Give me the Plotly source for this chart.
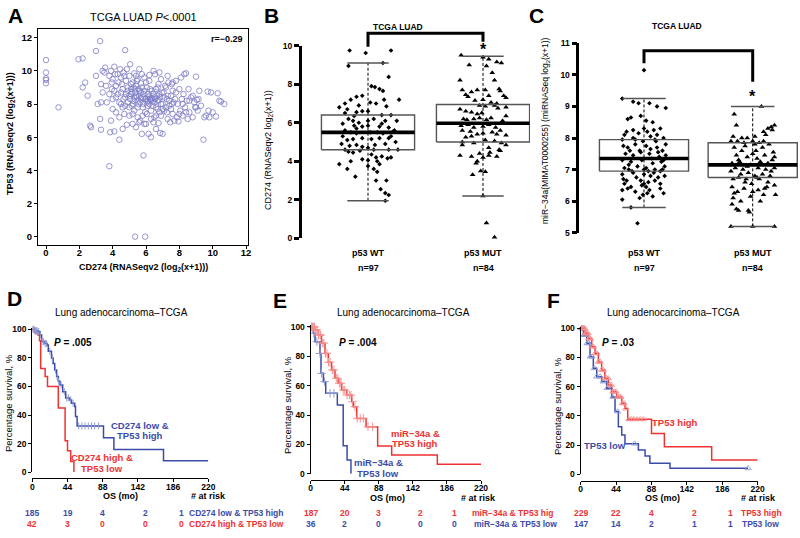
import plotly.graph_objects as go

W, H = 800, 538
FONT = "Liberation Sans, Arial, sans-serif"
RED = "#ee3232"
BLUE = "#3b4ca8"
RED_L = "#f59090"
BLUE_L = "#8f9ad0"
SCAT = "#7c7cc6"

# ---------------- DATA ----------------
# Panel A: CD274 vs TP53 (log2(x+1))
A_POINTS = [(0,10.65),(0,9.9),(0,9.55),(0,9.45),(0,9.25),(0.75,7.8),(1.95,10.7),(2.2,10.75),(2.2,9.0),(2.35,9.3),
 (2.5,8.5),(2.65,6.7),(2.7,6.6),(3.0,11.2),(3.25,11.8),(3.0,9.7),(3.1,8.0),(3.25,7.1),(3.3,6.45),(3.3,9.2),
 (3.3,8.1),(3.4,8.7),(3.4,10.0),(3.5,9.9),(3.55,10.2),(3.8,4.25),(3.85,6.3),(3.65,8.1),(3.6,9.1),(3.8,9.7),
 (3.9,10.0),(3.9,7.0),(3.95,8.9),(4.0,9.5),(4.0,8.3),(4.1,6.35),(4.1,10.25),(4.15,9.8),(4.2,9.1),(4.2,7.5),
 (4.3,8.6),(4.35,9.3),(4.4,5.85),(4.4,7.2),(4.45,10.1),(4.5,8.0),(4.5,9.6),(4.6,6.5),(4.6,8.9),(4.65,9.9),
 (4.7,7.4),(4.75,11.25),(4.75,8.4),(4.8,9.4),(4.85,6.75),(4.85,10.1),(4.9,8.1),(4.9,9.0),(5.0,7.3),(5.0,9.7),
 (5.05,10.4),(5.1,8.6),(5.1,8.9),(5.15,7.9),(5.2,9.3),(5.2,6.8),(5.25,8.2),(5.3,9.85),(5.3,7.6),(5.35,0.0),
 (5.35,8.7),(5.4,9.1),(5.4,6.6),(5.45,8.4),(5.5,9.5),(5.5,7.2),(5.55,8.0),(5.6,10.1),(5.6,8.8),(5.65,7.0),
 (5.7,8.35),(5.7,9.25),(5.75,6.2),(5.8,7.8),(5.85,4.9),(5.85,8.6),(5.9,9.6),(5.95,0.0),(5.95,7.5),(6.0,8.3),
 (6.0,6.8),(6.05,9.0),(6.1,8.2),(6.1,7.9),(6.15,6.2),(6.2,8.5),(6.2,9.4),(6.25,8.3),(6.3,6.0),(6.3,7.6),
 (6.35,8.8),(6.4,8.15),(6.45,10.0),(6.5,8.4),(6.5,7.2),(6.55,9.8),(6.6,8.9),(6.6,6.5),(6.7,8.2),(6.7,7.7),
 (6.75,9.2),(6.8,8.6),(6.85,6.25),(6.9,7.3),(6.9,9.5),(7.0,8.0),(7.0,6.2),(7.05,8.7),(7.1,7.6),(7.2,9.0),
 (7.25,8.3),(7.3,7.1),(7.35,9.3),(7.4,7.9),(7.45,6.9),(7.5,8.5),(7.55,9.2),(7.6,7.4),(7.65,8.1),(7.7,7.0),
 (7.8,9.4),(7.8,8.7),(7.85,7.2),(7.9,8.0),(7.95,6.95),(8.0,8.9),(8.05,7.6),(8.1,9.6),(8.15,8.3),(8.2,7.3),
 (8.25,8.6),(8.3,9.8),(8.35,7.8),(8.4,9.85),(8.45,8.2),(8.5,7.1),(8.55,8.9),(8.6,7.5),(8.7,8.4),(8.8,7.2),
 (8.9,8.1),(8.95,7.8),(9.0,9.65),(9.05,8.25),(9.1,7.6),(9.2,8.8),(9.3,7.9),(9.45,5.85),(9.5,7.2),(9.6,7.3),
 (9.7,8.75),(9.75,7.6),(9.8,7.2),(9.9,8.7),(10.0,7.5),(10.2,7.25),(10.3,8.65),(10.4,8.2),(10.5,8.15),(10.7,8.0),
 (4.8,8.6),(4.9,8.8),(5.0,8.5),(5.05,8.3),(5.1,9.2),(5.15,8.7),(5.2,8.0),(5.25,9.0),(5.3,8.4),(5.35,8.9),
 (5.4,8.5),(5.45,9.4),(5.5,8.2),(5.55,8.9),(5.6,8.5),(5.65,8.1),(5.7,8.7),(5.75,9.0),(5.8,8.4),(5.85,8.0),
 (5.9,8.8),(5.95,8.3),(6.0,9.3),(6.05,8.1),(6.1,8.6),(6.15,8.4),(6.2,8.0),(6.25,8.9),(6.3,8.25),(6.35,8.35),
 (6.4,7.9),(6.45,8.6),(6.5,8.1),(6.55,8.3),(6.6,7.8),(6.65,8.5),(6.7,9.0),(6.75,8.25),(6.8,7.5),(6.85,8.4),
 (6.9,8.0),(6.95,8.7),(7.0,7.7),(7.1,8.4),(7.15,9.1),(7.2,7.8),(7.3,8.5),(7.4,8.2),(7.5,7.7),(7.6,8.8),
 (4.4,8.1),(4.5,8.7),(4.55,9.2),(4.6,7.8),(4.7,9.7),(4.3,9.8),(4.2,8.4),(4.1,8.8),(3.95,9.3),(3.8,8.6),
 (4.0,7.7),(4.65,8.3),(4.75,7.9),(5.0,7.8),(5.2,7.4),(5.5,7.8),(5.8,7.3),(6.05,7.4),(6.3,7.1),(6.45,6.9),
 (6.6,7.3),(6.75,6.85),(5.6,6.9),(5.9,6.8),(7.25,7.5),(7.55,8.0),(7.75,8.3),(8.0,7.4),(8.2,8.0),(8.4,7.5),
 (8.6,8.2),(8.8,8.5),(9.0,7.8),(9.15,8.3),(5.4,9.7),(5.75,9.8),(6.2,9.75),(6.8,9.9),(7.3,9.7),(7.6,9.3)]

GROUPS = ["p53 WT", "p53 MUT"]
GROUP_N = ["n=97", "n=84"]

# Panel B: CD274 by p53 status (box stats + points as (jitter, value))
B_Q1 = [4.6, 5.0]; B_MED = [5.5, 5.97]; B_Q3 = [6.4, 6.95]; B_LO = [1.95, 2.2]; B_HI = [9.1, 9.45]
B_WT = [(-0.16,9.75),(-0.02,9.62),(0.2,9.75),(-0.17,8.95),(0.13,9.1),(0.18,8.38),(0.03,7.9),(0.06,7.85),(0.1,7.75),(0.13,7.65),
 (-0.05,7.4),(-0.1,7.35),(0.14,7.2),(0.27,7.2),(0.07,7.0),(-0.15,7.2),(-0.2,7.0),(-0.25,6.8),(-0.18,6.7),(-0.1,6.55),
 (-0.05,6.6),(-0.2,6.5),(0.0,6.6),(0.12,6.4),(0.2,6.4),(-0.17,6.2),(-0.13,6.1),(-0.08,6.0),(0.0,6.1),(0.05,6.2),
 (0.15,6.1),(-0.22,5.95),(-0.12,5.85),(-0.05,5.8),(0.0,5.85),(0.1,5.8),(0.18,5.75),(0.23,5.6),(-0.2,5.6),(-0.15,5.5),
 (-0.1,5.45),(0.02,5.5),(0.08,5.5),(0.13,5.45),(0.22,5.55),(-0.18,5.1),(-0.13,5.15),(-0.05,5.2),(0.03,5.15),(0.1,5.2),
 (0.18,5.2),(0.24,5.0),(-0.23,4.9),(-0.16,4.8),(-0.1,4.85),(-0.05,4.75),(0.0,4.7),(0.06,4.85),(0.15,4.9),(-0.2,4.6),
 (-0.17,4.5),(-0.13,4.45),(-0.07,4.55),(0.05,4.6),(0.18,4.6),(0.26,4.6),(0.03,4.35),(0.07,4.2),(0.12,4.25),(0.17,4.15),
 (0.2,4.2),(-0.05,4.1),(0.0,4.05),(0.08,4.0),(-0.25,3.85),(-0.15,4.0),(-0.18,3.6),(0.0,3.75),(0.05,3.6),(-0.11,3.2),
 (0.08,3.45),(0.07,3.0),(0.16,3.0),(0.11,2.55),(0.15,2.35),(0.18,2.25),(0.15,1.95),(0.1,3.85),(0.16,6.85),(-0.08,6.9),
 (0.02,7.05),(-0.22,5.3),(0.2,5.3),(-0.1,5.7),(0.12,5.95),(0.25,6.1),(-0.12,6.35)]
B_MUT = [(-0.19,9.5),(0.0,9.4),(0.05,9.3),(0.12,9.15),(0.16,9.1),(-0.12,9.0),(0.03,8.95),(0.08,8.6),(-0.2,8.2),(0.1,8.2),
 (-0.18,7.7),(-0.1,7.6),(-0.05,7.7),(0.02,7.7),(0.14,7.75),(0.15,7.65),(-0.15,7.45),(-0.13,7.35),(0.05,7.4),(0.18,7.4),
 (0.2,7.3),(-0.07,7.15),(0.0,7.2),(0.07,7.05),(0.12,7.0),(-0.03,6.9),(0.02,6.85),(0.1,6.9),(0.13,6.75),(0.2,6.35),
 (-0.2,6.7),(-0.15,6.6),(-0.1,6.55),(-0.05,6.45),(-0.01,6.5),(-0.17,6.2),(-0.14,6.15),(-0.08,6.2),(-0.03,6.25),(0.03,6.15),
 (0.07,6.25),(0.17,6.1),(-0.19,5.85),(-0.13,5.9),(-0.08,5.75),(0.0,5.8),(0.05,5.9),(0.11,5.75),(0.15,5.6),(-0.18,5.6),
 (-0.11,5.55),(-0.05,5.4),(0.0,5.45),(0.08,5.5),(0.12,5.4),(0.2,5.35),(-0.15,5.25),(-0.1,5.3),(0.02,5.1),(0.1,5.05),
 (0.16,4.95),(0.2,4.85),(-0.18,5.0),(-0.08,4.95),(0.05,4.7),(0.14,4.6),(-0.18,4.85),(-0.2,4.3),(-0.1,4.25),(-0.03,4.4),
 (0.0,4.2),(0.05,4.3),(0.12,4.25),(0.15,4.55),(-0.05,4.0),(-0.06,3.9),(-0.02,3.5),(0.02,3.45),(-0.09,3.3),(0.0,2.2),
 (0.03,0.8),(0.1,0.05),(0.06,4.45),(0.2,6.8)]

# Panel C: miR-34a by p53 status
C_Q1 = [6.95, 6.75]; C_MED = [7.35, 7.15]; C_Q3 = [7.95, 7.85]; C_LO = [5.8, 5.2]; C_HI = [9.25, 9.0]
C_WT = [(0.0,10.15),(-0.2,9.25),(-0.1,9.15),(-0.05,9.1),(0.05,9.1),(0.12,9.0),(0.2,8.95),(-0.15,8.6),(-0.12,8.65),(-0.03,8.7),
 (0.08,8.5),(0.0,8.3),(0.03,8.2),(-0.05,8.15),(-0.1,8.0),(-0.18,8.1),(-0.2,7.95),(0.06,8.05),(0.1,7.95),(0.18,8.0),
 (0.2,7.8),(-0.19,7.75),(-0.15,7.7),(-0.08,7.8),(0.02,7.75),(0.12,7.7),(0.17,7.6),(-0.17,7.5),(-0.1,7.45),(-0.03,7.55),
 (0.05,7.5),(0.14,7.4),(-0.2,7.3),(-0.12,7.25),(-0.02,7.3),(0.08,7.2),(0.16,7.25),(0.19,7.1),(-0.18,7.05),(-0.14,7.0),
 (-0.06,7.1),(0.02,7.05),(0.1,7.0),(0.15,6.95),(-0.2,6.85),(-0.1,6.9),(0.0,6.85),(0.06,6.8),(0.13,6.75),(0.19,6.8),
 (-0.19,6.7),(-0.16,6.65),(-0.07,6.75),(0.04,6.6),(0.1,6.65),(-0.18,6.55),(-0.12,6.45),(-0.02,6.5),(0.02,6.45),(0.15,6.4),
 (-0.2,6.35),(-0.15,6.4),(-0.01,6.2),(0.03,6.25),(0.08,6.15),(0.18,6.25),(-0.12,5.8),(0.0,6.55),(-0.06,5.3),(0.11,7.9),
 (-0.08,7.95),(0.07,7.35),(-0.14,7.15),(0.04,6.95),(-0.04,7.6),(0.12,8.1),(-0.1,8.25),(0.15,8.3),(0.05,6.35),(-0.04,6.1),
 (0.17,7.0),(-0.2,6.05),(0.09,6.9),(-0.13,7.6),(0.0,7.0),(0.13,7.55),(-0.08,6.3),(0.02,8.55),(-0.16,8.2),(0.2,7.45),
 (0.06,7.65),(-0.11,6.95),(-0.03,6.65),(0.15,6.55),(0.09,8.25),(-0.01,7.9),(0.18,7.3)]
C_MUT = [(0.08,9.0),(-0.17,8.75),(-0.15,8.4),(0.2,8.4),(0.17,8.35),(0.14,8.3),(0.18,8.25),(0.1,8.2),(-0.18,8.05),(-0.1,8.0),
 (-0.05,8.0),(0.02,8.05),(0.12,8.1),(-0.2,7.9),(-0.14,7.9),(-0.08,7.85),(0.0,7.9),(0.06,7.85),(0.15,7.8),(-0.17,7.7),
 (-0.1,7.6),(0.03,7.6),(0.09,7.7),(0.19,7.55),(-0.15,7.45),(-0.05,7.4),(0.0,7.5),(0.11,7.45),(0.2,7.4),(-0.19,7.2),
 (-0.12,7.25),(-0.02,7.15),(0.07,7.25),(0.14,7.2),(0.18,7.3),(-0.16,7.05),(-0.09,7.0),(-0.05,7.1),(0.05,7.05),(0.12,7.0),
 (0.2,7.05),(-0.2,6.95),(-0.11,6.85),(-0.04,6.9),(0.02,6.8),(0.09,6.85),(0.16,6.8),(-0.18,6.7),(-0.13,6.75),(-0.06,6.7),
 (0.04,6.75),(0.2,6.5),(-0.19,6.45),(-0.14,6.3),(-0.08,6.4),(0.0,6.3),(0.05,6.35),(0.1,6.2),(0.21,6.2),(-0.18,6.1),
 (-0.11,6.0),(-0.02,6.15),(0.07,6.0),(-0.19,5.9),(-0.15,5.75),(-0.13,5.7),(-0.04,5.7),(-0.03,5.65),(0.0,5.2),(-0.2,5.2),
 (0.2,5.2),(0.06,6.7),(-0.07,6.6),(0.13,6.45),(0.04,7.35),(-0.13,7.3),(0.17,6.95),(-0.01,6.55),(0.1,7.9),(-0.07,7.75),
 (0.14,6.6),(-0.17,6.25),(0.02,7.8),(0.11,6.4)]

# Kaplan-Meier step curves (time in months, survival %)
D_BLUE_T = [0, 3, 7.5, 9.6, 11.7, 15.8, 18.5, 20, 24, 26, 28, 30.4, 32.5, 34.6, 38, 41.7, 47, 49, 53, 54, 56, 89, 102, 164, 220]
D_BLUE_S = [100, 99, 98.4, 96, 91.4, 90, 89, 84.6, 80, 76, 71.6, 67, 63.6, 61, 56.4, 52, 50.6, 48.3, 46, 39, 32.4, 24.2, 16, 8, 8]
D_RED_T = [0, 3, 7, 9, 10.5, 16, 19, 32.5, 41, 44, 48, 52]
D_RED_S = [100, 98, 96, 92, 72.5, 67, 60, 45, 22, 15, 7.5, 0]
E_RED_T = [0, 5.6, 10, 14, 18.5, 22.8, 27, 31.4, 35.7, 40, 46.5, 53, 55, 59.4, 71.5, 86.5, 104.6, 163.6, 220]
E_RED_S = [100, 98, 94.5, 89, 82, 76, 70.7, 65, 61.6, 57, 53.6, 49, 45.7, 37.7, 32, 18.9, 12.7, 6.4, 6.4]
E_BLUE_T = [0, 3.4, 5.6, 12, 13.3, 16.4, 19.4, 34.4, 42, 47, 52]
E_BLUE_S = [100, 95.7, 90, 82, 68.4, 62.7, 54.8, 46.8, 19, 9.3, 0]
F_RED_T = [0, 5.4, 9.5, 13.7, 17.8, 22, 26, 30, 34.4, 38.5, 44.7, 51, 55, 58.4, 88, 104, 162.8, 220]
F_RED_S = [100, 96.6, 93, 87.4, 82.9, 77, 71.5, 65.8, 61.2, 56.6, 53, 48.6, 45, 37.7, 28, 18.9, 9.8, 9.8]
F_BLUE_T = [0, 3.3, 7.5, 11.6, 15.7, 19.9, 26, 32.3, 38.5, 42.7, 46.8, 51, 55, 71.7, 80, 86, 111, 208]
F_BLUE_S = [100, 95.4, 89.7, 80.6, 72.6, 66.9, 63.5, 59, 53, 43, 32.6, 27, 21, 16.7, 12.6, 7.5, 4.1, 4.1]

# censoring times
D_BLUE_C = [1,2,3,4,5,6,8,10,12,14,16,18,22,25,29,31,33,36,40,43,45,48,51,58,62,66,70,74,78,83]
D_RED_C = [1,2,4,6]
E_RED_C = [1,2,3,4,5,6,8,10,12,13,15,17,19,21,23,25,28,30,33,35,37,39,42,44,47,50,52,54,57,60,64,68,74,80]
E_BLUE_C = [2,4,8,12,14,18,25,30]
F_RED_C = [1,2,3,4,5,6,7,8,9,10,11,12,14,16,18,20,22,24,26,28,30,32,34,36,38,40,42,44,46,48,50,52,54,56,60,63,66,70,74,78]
F_BLUE_C = [1,2,3,4,5,6,8,10,12,14,17,20,24,28,33,40,46,67,208]

KM_TICKS = [0, 44, 88, 132, 176, 220]
KM_TICKTEXT = ["0", "44", "88", "142", "186", "220"]
RISK_TIMES = [0, 44, 88, 142, 186]
D_RISK = {"blue": [185, 19, 4, 2, 1], "red": [42, 3, 0, 0, 0]}
E_RISK = {"red": [187, 20, 3, 2, 1], "blue": [36, 2, 0, 0, 0]}
F_RISK = {"red": [229, 22, 4, 2, 1], "blue": [147, 14, 2, 1, 1]}


# ---------------- helpers ----------------
def px(x):
    return x / W


def py(y):
    return 1 - y / H


def lin_range(p0, v0, p1, v1, e0, e1):
    k = (v1 - v0) / (p1 - p0)
    return [v0 + (e0 - p0) * k, v0 + (e1 - p0) * k]


def surv_at(ts, ss, t):
    v = ss[0]
    for ti, si in zip(ts, ss):
        if ti <= t:
            v = si
    return v


annotations = []


def ann(text, x, y, size, color="black", xanchor="center", angle=0, xref="paper", yref="paper", xshift=0):
    annotations.append(dict(
        text=text, x=px(x) if xref == "paper" else x, y=py(y) if yref == "paper" else y,
        xref=xref, yref=yref, xanchor=xanchor, yanchor="middle", showarrow=False,
        textangle=angle, xshift=xshift,
        font=dict(family=FONT, size=size, color=color)))


fig = go.Figure()

# ---------------- Panel A ----------------
ax, ay = zip(*A_POINTS)
fig.add_trace(go.Scatter(x=list(ax), y=list(ay), mode="markers", xaxis="x", yaxis="y",
                         marker=dict(symbol="circle-open", size=5.5, color=SCAT, line=dict(width=0.8, color=SCAT)),
                         cliponaxis=False))

# ---------------- Panels B & C (box plots) ----------------
def box_panel(xa, ya, q1, med, q3, lo, hi, groups_pts, half, cap):
    symbols = ["diamond", "triangle-up"]
    sizes = [3.6, 5]
    for i in range(2):
        c = i + 1
        fig.add_trace(go.Scatter(x=[c, c], y=[lo[i], hi[i]], mode="lines", xaxis=xa, yaxis=ya,
                                 line=dict(color="black", width=1, dash="3px,2px")))
    for i, pts in enumerate(groups_pts):
        c = i + 1
        off, val = zip(*pts)
        fig.add_trace(go.Scatter(x=[c + o for o in off], y=list(val), mode="markers", xaxis=xa, yaxis=ya,
                                 marker=dict(symbol=symbols[i], size=sizes[i], color="black", line=dict(width=0)),
                                 cliponaxis=False))
    for i in range(2):
        c = i + 1
        fig.add_trace(go.Scatter(x=[c - half, c + half, c + half, c - half, c - half],
                                 y=[q1[i], q1[i], q3[i], q3[i], q1[i]], mode="lines", xaxis=xa, yaxis=ya,
                                 line=dict(color="#555555", width=1.4)))
        fig.add_trace(go.Scatter(x=[c - half, c + half], y=[med[i], med[i]], mode="lines", xaxis=xa, yaxis=ya,
                                 line=dict(color="black", width=3.6)))
        for v in (lo[i], hi[i]):
            fig.add_trace(go.Scatter(x=[c - cap, c + cap], y=[v, v], mode="lines", xaxis=xa, yaxis=ya,
                                     line=dict(color="#555555", width=1.5)))


box_panel("x2", "y2", B_Q1, B_MED, B_Q3, B_LO, B_HI, [B_WT, B_MUT], 0.405, 0.18)
box_panel("x3", "y3", C_Q1, C_MED, C_Q3, C_LO, C_HI, [C_WT, C_MUT], 0.41, 0.2)

# ---------------- KM panels ----------------
def km(xa, ya, t, s, color, cens, cens_color, symbol, csize, cwidth):
    fig.add_trace(go.Scatter(x=t, y=s, mode="lines", xaxis=xa, yaxis=ya,
                             line=dict(shape="hv", color=color, width=1.5)))
    cy = [surv_at(t, s, c) for c in cens]
    fig.add_trace(go.Scatter(x=cens, y=cy, mode="markers", xaxis=xa, yaxis=ya, cliponaxis=False,
                             marker=dict(symbol=symbol, size=csize, color=cens_color,
                                         line=dict(color=cens_color, width=cwidth))))


km("x4", "y4", D_RED_T, D_RED_S, RED, D_RED_C, RED_L, "line-ns", 4, 1)
km("x4", "y4", D_BLUE_T, D_BLUE_S, BLUE, D_BLUE_C, BLUE_L, "line-ns", 5, 1)
km("x5", "y5", E_BLUE_T, E_BLUE_S, BLUE, E_BLUE_C, BLUE_L, "cross-thin", 6, 1)
km("x5", "y5", E_RED_T, E_RED_S, RED, E_RED_C, RED_L, "cross-thin", 6, 1)
km("x6", "y6", F_BLUE_T, F_BLUE_S, BLUE, F_BLUE_C, BLUE_L, "triangle-up-open", 5.5, 0.9)
km("x6", "y6", F_RED_T, F_RED_S, RED, F_RED_C, RED_L, "triangle-up-open", 5.5, 0.9)

# ---------------- axes ----------------
def tf(size):
    return dict(family=FONT, size=size, color="black", weight="bold")


common = dict(showgrid=False, zeroline=False, automargin=False)
layout_axes = {}
layout_axes["xaxis"] = dict(common, domain=[px(38), px(248)], range=lin_range(46, 0, 246, 12, 38, 248), anchor="y",
                            tickvals=list(range(0, 13, 2)), showline=True, mirror=True, linecolor="black", linewidth=1,
                            ticks="outside", ticklen=3, tickcolor="black", tickfont=tf(9.5), ticklabelstandoff=-4)
layout_axes["yaxis"] = dict(common, domain=[py(245), py(29)], range=lin_range(236.7, 0, 37.7, 12, 245, 29), anchor="x",
                            tickvals=list(range(0, 13, 2)), showline=True, mirror=True, linecolor="black", linewidth=1,
                            ticks="outside", ticklen=3, tickcolor="black", tickfont=tf(9.5))
layout_axes["xaxis2"] = dict(common, domain=[px(301.7), px(530)], range=lin_range(368, 1, 483, 2, 301.7, 530),
                             anchor="y2", showticklabels=False, showline=False, ticks="")
layout_axes["yaxis2"] = dict(common, domain=[py(238.3), py(45.7)], range=[0, 10], anchor="x2",
                             tickvals=list(range(0, 11, 2)), showline=True, linecolor="black", linewidth=2.5,
                             ticks="outside", ticklen=5, tickwidth=2.5, tickcolor="black", tickfont=tf(8.5))
layout_axes["xaxis3"] = dict(common, domain=[px(579.3), 1.0], range=lin_range(644, 1, 752.7, 2, 579.3, 800),
                             anchor="y3", showticklabels=False, showline=False, ticks="")
layout_axes["yaxis3"] = dict(common, domain=[py(232.7), py(43.3)], range=[5, 11], anchor="x3",
                             tickvals=list(range(5, 12)), showline=True, linecolor="black", linewidth=2.5,
                             ticks="outside", ticklen=5, tickwidth=2.5, tickcolor="black", tickfont=tf(8.5))

# KM geometry: pixel of x=0 / x=220, pixel of y=0 / y=100, pixel row of the (detached) x-axis line
km_geo = {
    "4": dict(x0=32.3, x220=208.3, y0=472.3, y100=329.3, xline=478.3),
    "5": dict(x0=310.7, x220=481, y0=473.7, y100=327, xline=480),
    "6": dict(x0=580.7, x220=757.7, y0=474.3, y100=328.3, xline=481),
}
for k, g in km_geo.items():
    ytop = g["y100"] - (g["y0"] - g["y100"]) / 100 * 1.2
    layout_axes["xaxis" + k] = dict(common, domain=[px(g["x0"]), px(g["x220"])], range=[0, 220],
                                    anchor="free", position=py(g["xline"]),
                                    tickvals=KM_TICKS, ticktext=KM_TICKTEXT,
                                    showline=True, linecolor="black", linewidth=1.3, ticks="outside", ticklen=3,
                                    tickwidth=1.2, tickcolor="black", tickfont=tf(8.5), ticklabelstandoff=-3)
    layout_axes["yaxis" + k] = dict(common, domain=[py(g["y0"]), py(ytop)],
                                    range=lin_range(g["y0"], 0, g["y100"], 100, g["y0"], ytop),
                                    anchor="x" + k, tickvals=[0, 20, 40, 60, 80, 100],
                                    showline=True, linecolor="black", linewidth=1.3, ticks="outside", ticklen=3,
                                    tickwidth=1.2, tickcolor="black", tickfont=tf(8.5))

# ---------------- text ----------------
# panel letters
for letter, x, y in [("A", 15, 16), ("B", 271, 16), ("C", 536, 16), ("D", 14, 298), ("E", 280, 300), ("F", 553, 300)]:
    ann("<b>%s</b>" % letter, x, y, 21)

# Panel A
ann("TCGA LUAD <i>P</i>&lt;.0001", 143, 17, 11)
ann("<b>r=−0.29</b>", 245, 39, 9, xanchor="right")
ann("<b>TP53 (RNASeqv2 (log<sub>2</sub>(x+1)))</b>", 10, 134, 9, angle=-90)
ann("<b>CD274 (RNASeqv2 (log<sub>2</sub>(x+1)))</b>", 143, 267, 9)

# Panel B / C
ann("<b>TCGA LUAD</b>", 398, 27, 8.5)
ann("<b>TCGA LUAD</b>", 677, 26, 8.5)
ann("CD274 (RNASeqv2 log<sub>2</sub>(x+1))", 268, 150, 9, angle=-90)
ann("miR−34a(MIMAT0000255) (miRNASeq log<sub>2</sub>(x+1))", 546, 131, 8.5, angle=-90)
for xa in ("x2", "x3"):
    for i in range(2):
        ann("<b>%s</b>" % GROUPS[i], i + 1, 253, 9, xref=xa)
        ann("<b>%s</b>" % GROUP_N[i], i + 1, 268, 9, xref=xa)
ann("<b>*</b>", 2, 50, 16, xref="x2")
ann("<b>*</b>", 2, 97, 16, xref="x3")

shapes = [
    dict(type="path", xref="x2", yref="paper", line=dict(color="black", width=3),
         path="M 1,%f L 1,%f L 2,%f L 2,%f" % (py(46.7), py(33.3), py(33.3), py(41.7))),
    dict(type="path", xref="x3", yref="paper", line=dict(color="black", width=3),
         path="M 1,%f L 1,%f L 2,%f L 2,%f" % (py(63.3), py(50.7), py(50.7), py(81.7))),
]

# KM text
km_text = {
    "4": dict(title=121.7, p=(73, "<b><i>P</i> = .005</b>"), ylab=8, os=120, risk=208, ylabc=403, lab_y=496.5),
    "5": dict(title=403, p=(358, "<b><i>P</i> = .004</b>"), ylab=287, os=387, risk=478, ylabc=405, lab_y=498),
    "6": dict(title=673, p=(618, "<b><i>P</i> = .03</b>"), ylab=557, os=662, risk=758, ylabc=406, lab_y=498),
}
for k, d in km_text.items():
    ann("Lung adenocarcinoma–TCGA", d["title"], 312, 10)
    ann(d["p"][1], d["p"][0], 342, 10)
    ann("Percentage survival, %", d["ylab"], d["ylabc"], 9.5, angle=-90)
    ann("<b>OS (mo)</b>", d["os"], d["lab_y"], 9)
    ann("<b># at risk</b>", d["risk"], d["lab_y"], 9)

# curve labels
ann("<b>CD274 low &amp;</b>", 140, 425, 9.5, color=BLUE)
ann("<b>TP53 high</b>", 140, 436, 9.5, color=BLUE)
ann("<b>CD274 high &amp;</b>", 102, 457.5, 9.5, color=RED)
ann("<b>TP53 low</b>", 102, 468, 9.5, color=RED)
ann("<b>miR−34a &amp;</b>", 415, 433, 9.5, color=RED)
ann("<b>TP53 high</b>", 415, 443.5, 9.5, color=RED)
ann("<b>miR−34a &amp;</b>", 378, 462.5, 9.5, color=BLUE)
ann("<b>TP53 low</b>", 378, 473, 9.5, color=BLUE)
ann("<b>TP53 high</b>", 675, 422.5, 9.5, color=RED)
ann("<b>TP53 low</b>", 605, 445, 9.5, color=BLUE)

# at-risk tables
rows = [
    ("x4", D_RISK["blue"], BLUE, "CD274 low &amp; TP53 high", 512.5, 6),
    ("x4", D_RISK["red"], RED, "CD274 high &amp; TP53 low", 524, 6),
    ("x5", E_RISK["red"], RED, "miR−34a &amp; TP53 hig", 512.5, 15),
    ("x5", E_RISK["blue"], BLUE, "miR−34a &amp; TP53 low", 524, 17),
    ("x6", F_RISK["red"], RED, "TP53 high", 512.5, 9),
    ("x6", F_RISK["blue"], BLUE, "TP53 low", 524, 10),
]
for xa, nums, col, label, y, shift in rows:
    for t, n in zip(RISK_TIMES, nums):
        ann("<b>%d</b>" % n, t, y, 8.5, color=col, xref=xa)
    ann("<b>%s</b>" % label, RISK_TIMES[-1], y, 8.5, color=col, xref=xa, xanchor="left", xshift=shift)

fig.update_layout(
    template="none",
    width=W, height=H, margin=dict(l=0, r=0, t=0, b=0, pad=0),
    paper_bgcolor="white", plot_bgcolor="white", showlegend=False,
    font=dict(family=FONT, color="black"),
    annotations=annotations, shapes=shapes, **layout_axes)

fig.write_html("out.html", config={"displayModeBar": False},
               post_script="document.body.style.margin='0';document.body.style.padding='0';document.body.style.overflow='hidden';")
